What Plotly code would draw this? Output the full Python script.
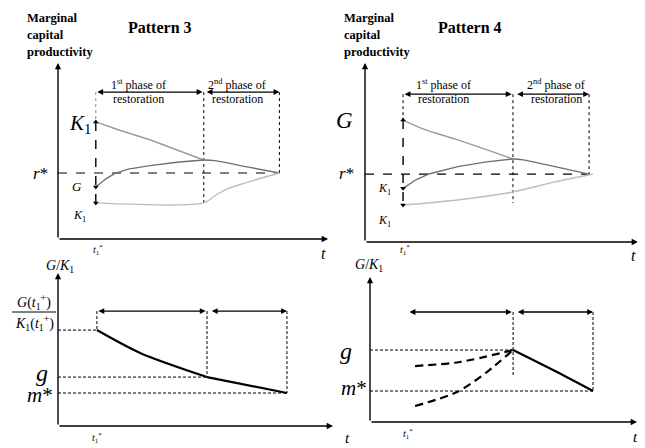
import plotly.graph_objects as go

W, H = 645, 448
OX, OY = 8, 8   # page body margin offset compensation
SERIF = "Liberation Serif, Times New Roman, serif"

# ---------------- data (schematic units) ----------------
# Pattern 3 (top-left)
p3_t = [1.4, 5.4, 8.2]            # t1*, phase boundary, end of restoration
p3_r = 3.75                        # r*
p3_bar = 8.35                      # phase bar level
p3_K1hi_x1 = [1.4, 2.2, 3.4, 5.4]; p3_K1hi_y1 = [6.65, 6.22, 5.64, 4.49]
p3_G_x1 = [1.4, 1.6, 1.8, 2.1, 2.6, 3.4, 4.4, 5.4]
p3_G_y1 = [2.95, 3.22, 3.45, 3.72, 3.97, 4.17, 4.36, 4.49]
p3_ph2_x = [5.4, 5.8, 7.0, 8.2];  p3_ph2_y = [4.49, 4.45, 4.1, 3.75]
p3_K1lo_x = [1.4, 5.4, 5.85, 6.25, 8.2]; p3_K1lo_y = [2.05, 2.05, 2.5, 2.84, 3.75]

# Pattern 4 (top-right)
p4_t = [1.41, 5.48, 8.3]
p4_r = 3.86
p4_bar = 8.4
p4_G_x1 = [1.41, 2.2, 3.44, 5.48];  p4_G_y1 = [6.93, 6.4, 5.8, 4.72]
p4_K1m_x1 = [1.41, 1.7, 1.9, 2.4, 3.44, 4.5, 5.48]
p4_K1m_y1 = [3.05, 3.35, 3.55, 3.88, 4.28, 4.55, 4.72]
p4_ph2_x = [5.48, 5.8, 7.0, 8.3];   p4_ph2_y = [4.72, 4.68, 4.3, 3.86]
p4_K1lo_x = [1.41, 3.5, 5.48, 7.0, 8.44]; p4_K1lo_y = [2.1, 2.4, 2.84, 3.4, 3.86]

# G/K1, pattern 3 (bottom-left)
b3_t = [1.44, 5.52, 8.48]
b3_bar = 6.53
b3_curve_x = [1.44, 3.04, 5.52];  b3_curve_y = [5.45, 4.15, 2.78]
b3_g = 2.78
b3_m = 1.875

# G/K1, pattern 4 (bottom-right)
b4_t = [1.41, 5.3, 8.26]
b4_bar = 6.25
b4_g = 4.09
b4_m = 1.76
b4_up_x = [1.67, 3.33, 5.3];     b4_up_y = [3.18, 3.41, 4.09]
b4_lo_x = [1.67, 3.22, 4.33, 5.3]; b4_lo_y = [0.91, 1.7, 2.84, 4.09]
b4_sol_x = [5.3, 6.78, 8.26];    b4_sol_y = [4.09, 2.95, 1.76]

# ---------------- panel geometry (screen pixels) ----------------
PXU, PYU = 27.0, 17.6
panels = {
    # name: (x0 px, x_end px, y0 px (origin), y_top px)
    "1": (58, 328, 239, 63),
    "2": (365, 638, 242, 63),
    "3": (58, 333, 426, 273),
    "4": (370, 637, 422, 277),
}

def fx(x):
    return (x - OX) / W

def fy(y):
    return 1 - (y - OY) / H

fig = go.Figure()
layout = dict(width=W, height=H, margin=dict(l=0, r=0, t=0, b=0),
              paper_bgcolor="white", plot_bgcolor="rgba(0,0,0,0)",
              showlegend=False)
ranges = {}
for k, (x0, x1, y0, yt) in panels.items():
    xr = (x1 - x0) / PXU
    yr = (y0 - yt) / PYU
    ranges[k] = (xr, yr)
    xa = "xaxis" if k == "1" else f"xaxis{k}"
    ya = "yaxis" if k == "1" else f"yaxis{k}"
    layout[xa] = dict(domain=[fx(x0), fx(x1)], range=[0, xr], visible=False,
                      anchor=f"y{'' if k == '1' else k}", fixedrange=True)
    layout[ya] = dict(domain=[fy(y0), fy(yt)], range=[0, yr], visible=False,
                      anchor=f"x{'' if k == '1' else k}", fixedrange=True)
fig.update_layout(**layout)

def ref(k):
    return ("x", "y") if k == "1" else (f"x{k}", f"y{k}")

def line(k, xs, ys, color="black", width=1.0, dash="solid", shape="linear"):
    xr, yr = ref(k)
    fig.add_trace(go.Scatter(x=xs, y=ys, mode="lines", xaxis=xr, yaxis=yr,
                             line=dict(color=color, width=width, dash=dash, shape=shape,
                                       smoothing=0.8),
                             hoverinfo="skip", cliponaxis=False))

def marks(k, xs, ys, symbols):
    xr, yr = ref(k)
    fig.add_trace(go.Scatter(x=xs, y=ys, mode="markers", xaxis=xr, yaxis=yr,
                             marker=dict(symbol=symbols, size=5, color="black"),
                             hoverinfo="skip", cliponaxis=False))

def arrow(k, x0, y0, x1, y1, both=False, width=1.3, size=0.9):
    xr, yr = ref(k)
    fig.add_annotation(x=x1, y=y1, ax=x0, ay=y0, xref=xr, yref=yr, axref=xr, ayref=yr,
                       text="", showarrow=True, arrowhead=2, arrowsize=size,
                       arrowwidth=width, arrowcolor="black", standoff=0, startstandoff=0,
                       arrowside="end+start" if both else "end", startarrowhead=2,
                       startarrowsize=size)

def txt(xp, yp, s, size=12, bold=False, anchor="center"):
    fig.add_annotation(x=fx(xp), y=fy(yp), xref="paper", yref="paper",
                       text=f"<b>{s}</b>" if bold else s, showarrow=False,
                       xanchor=anchor, yanchor="middle",
                       font=dict(family=SERIF, size=size, color="black"))

# axes arrows
for k in panels:
    xr, yr = ranges[k]
    arrow(k, 0, 0, xr, 0, width=1.4)
    arrow(k, 0, 0, 0, yr, width=1.4)

GRAY_HI, GRAY_MID, GRAY_LO = "#9b9b9b", "#707070", "#bdbdbd"

# ---------------- Pattern 3 ----------------
t1, tb, te = p3_t
line("1", [0, te], [p3_r, p3_r], dash="dash", width=1.2)
line("1", [t1, t1], [p3_bar, p3_K1hi_y1[0]], color="#888", dash="dot", width=1)
line("1", [t1, t1], [p3_K1hi_y1[0], p3_K1lo_y[0]], dash="dash", width=1.4)
line("1", [tb, tb], [p3_bar, p3_K1lo_y[1]], dash="dot", width=1)
line("1", [te, te], [p3_bar, p3_r], dash="dot", width=1)
line("1", p3_K1hi_x1, p3_K1hi_y1, color=GRAY_HI, width=1.4)
line("1", p3_G_x1, p3_G_y1, color=GRAY_MID, width=1.4)
line("1", p3_ph2_x, p3_ph2_y, color=GRAY_MID, width=1.4, shape="spline")
line("1", p3_K1lo_x, p3_K1lo_y, color=GRAY_LO, width=1.4, shape="spline")
marks("1", [t1, t1, t1], [p3_K1hi_y1[0], p3_G_y1[0], p3_K1lo_y[0]],
      ["triangle-up", "triangle-down", "triangle-down"])
arrow("1", t1, p3_bar, tb - 0.05, p3_bar, both=True)
arrow("1", tb + 0.05, p3_bar, te, p3_bar, both=True)

# ---------------- Pattern 4 ----------------
t1, tb, te = p4_t
line("2", [0, te], [p4_r, p4_r], dash="dash", width=1.2)
line("2", [t1, t1], [p4_bar, p4_G_y1[0]], dash="dot", width=1)
line("2", [t1, t1], [p4_G_y1[0], p4_K1lo_y[0]], dash="dash", width=1.4)
line("2", [tb, tb], [p4_bar, 2.21], dash="dot", width=1)
line("2", [te, te], [p4_bar, p4_r], dash="dot", width=1)
line("2", p4_G_x1, p4_G_y1, color=GRAY_HI, width=1.4, shape="spline")
line("2", p4_K1m_x1, p4_K1m_y1, color=GRAY_MID, width=1.4)
line("2", p4_ph2_x, p4_ph2_y, color=GRAY_MID, width=1.4, shape="spline")
line("2", p4_K1lo_x, p4_K1lo_y, color=GRAY_LO, width=1.4, shape="spline")
marks("2", [t1, t1, t1], [p4_G_y1[0], p4_K1m_y1[0], p4_K1lo_y[0]],
      ["triangle-up", "triangle-down", "triangle-down"])
arrow("2", t1, p4_bar, tb - 0.05, p4_bar, both=True)
arrow("2", tb + 0.1, p4_bar, te, p4_bar, both=True)

# ---------------- G/K1 pattern 3 ----------------
t1, tb, te = b3_t
DOT = "3px,2px"
line("3", [0, t1], [b3_curve_y[0], b3_curve_y[0]], dash=DOT, width=1)
line("3", [0, tb], [b3_g, b3_g], dash=DOT, width=1)
line("3", [0, te], [b3_m, b3_m], dash=DOT, width=1)
line("3", [t1, t1], [b3_bar, b3_curve_y[0]], dash=DOT, width=1)
line("3", [tb, tb], [b3_bar, b3_g], dash=DOT, width=1)
line("3", [te, te], [b3_bar, b3_m], dash=DOT, width=1)
line("3", b3_curve_x, b3_curve_y, width=2.2, shape="spline")
line("3", [tb, te], [b3_g, b3_m], width=2.2)
arrow("3", t1, b3_bar, tb - 0.05, b3_bar, both=True)
arrow("3", tb + 0.12, b3_bar, te, b3_bar, both=True)

# ---------------- G/K1 pattern 4 ----------------
t1, tb, te = b4_t
line("4", [0, tb], [b4_g, b4_g], dash=DOT, width=1)
line("4", [0, te], [b4_m, b4_m], dash=DOT, width=1)
line("4", [tb, tb], [b4_bar, 2.67], dash=DOT, width=1)
line("4", [te, te], [b4_bar, b4_m], dash=DOT, width=1)
line("4", b4_up_x, b4_up_y, width=2.2, dash="8px,5px", shape="spline")
line("4", b4_lo_x, b4_lo_y, width=2.2, dash="8px,5px", shape="spline")
line("4", b4_sol_x, b4_sol_y, width=2.2, shape="spline")
arrow("4", t1, b4_bar, tb - 0.05, b4_bar, both=True)
arrow("4", tb + 0.12, b4_bar, te, b4_bar, both=True)

# ---------------- text ----------------
for x0, title, tx in [(25, "Pattern 3", 160), (342, "Pattern 4", 470)]:
    txt(x0, 18, "Marginal", 12.5, bold=True, anchor="left")
    txt(x0, 35, "capital", 12.5, bold=True, anchor="left")
    txt(x0, 52, "productivity", 12.5, bold=True, anchor="left")
    txt(tx, 27, title, 16, bold=True)

for c1, c2 in [(138, 237), (443, 556)]:
    txt(c1, 84, "1<sup>st</sup> phase of", 12)
    txt(c1, 99, "restoration", 12)
    txt(c2, 84, "2<sup>nd</sup> phase of", 12)
    txt(c2, 99, "restoration", 12)

T1S = "<i>t</i><sub>1</sub><sup>*</sup>"
K1 = "<i>K</i><sub>1</sub>"
# pattern 3 labels
txt(80, 124, K1, 21)
txt(40, 173, "<i>r</i>*", 17)
txt(77, 186, "<i>G</i>", 13)
txt(79, 216, K1, 12)
txt(98, 250, T1S, 10)
txt(323, 253, "<i>t</i>", 16)
# pattern 4 labels
txt(345, 120, "<i>G</i>", 23)
txt(346, 173, "<i>r</i>*", 17)
txt(384, 189, K1, 12)
txt(384, 221, K1, 12)
txt(405, 250, T1S, 10)
txt(633, 255, "<i>t</i>", 16)
# bottom-left labels
txt(60, 266, "<i>G</i>/" + K1, 14)
txt(34, 302, "<i>G</i>(<i>t</i><sub>1</sub><sup>+</sup>)", 14)
txt(34, 323, "<i>K</i><sub>1</sub>(<i>t</i><sub>1</sub><sup>+</sup>)", 14)
fig.add_shape(type="line", xref="paper", yref="paper", x0=fx(12), x1=fx(56),
              y0=fy(312), y1=fy(312), line=dict(color="black", width=1))
txt(42, 373, "<i>g</i>", 24)
txt(40, 395, "<i>m</i>*", 21)
txt(97, 438, T1S, 10)
txt(347, 438, "<i>t</i>", 15)
# bottom-right labels
txt(369, 265, "<i>G</i>/" + K1, 14)
txt(346, 351, "<i>g</i>", 24)
txt(354, 388, "<i>m</i>*", 21)
txt(408, 434, T1S, 10)
txt(635, 437, "<i>t</i>", 15)

fig.write_html("out.html")
